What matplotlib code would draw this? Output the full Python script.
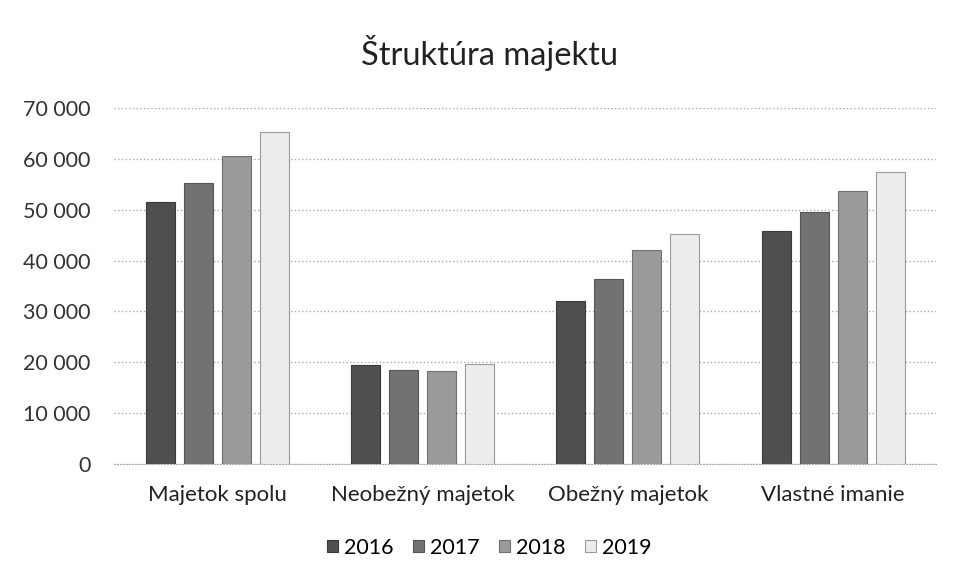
import numpy as np
import matplotlib
matplotlib.use('Agg')
import matplotlib.pyplot as plt

categories = ['Majetok spolu', 'Neobežný majetok', 'Obežný majetok', 'Vlastné imanie']
years = ['2016', '2017', '2018', '2019']
v2016 = [51500, 19400, 32000, 45800]
v2017 = [55200, 18500, 36300, 49500]
v2018 = [60500, 18200, 42000, 53700]
v2019 = [65200, 19600, 45200, 57400]
yticks = [0, 10000, 20000, 30000, 40000, 50000, 60000, 70000]
ytick_labels = ['0', '10 000', '20 000', '30 000', '40 000', '50 000', '60 000', '70 000']

plt.rcParams['font.family'] = ['Lato', 'DejaVu Sans']

fig = plt.figure(figsize=(9.54, 5.81), dpi=100)
ax = fig.add_axes([0.12, 0.2014, 0.861, 0.6126])

colors = ['#4f4f4f', '#727272', '#9a9a9a', '#ececec']
edges = ['#3a3a3a', '#555555', '#707070', '#9a9a9a']
series = [v2016, v2017, v2018, v2019]
x = np.arange(len(categories))
step = 0.185
width = 0.14
for i, (vals, year) in enumerate(zip(series, years)):
    ax.bar(x + (i - 1.5) * step, vals, width, color=colors[i],
           edgecolor=edges[i], linewidth=0.8, label=year, zorder=3)

ax.set_xlim(-0.5, 3.5)
ax.set_ylim(0, 70000)
ax.set_yticks(yticks)
ax.set_yticklabels(ytick_labels, fontsize=15.5, color='#333333')
ax.set_xticks(x)
ax.set_xticklabels(categories, fontsize=16, color='#222222')
ax.tick_params(axis='both', length=0)
ax.tick_params(axis='x', pad=15)
ax.tick_params(axis='y', pad=17)
ax.grid(axis='y', color='#aaaaaa', linestyle=':', linewidth=1.0, zorder=0)
for s in ['top', 'right', 'left']:
    ax.spines[s].set_visible(False)
ax.spines['bottom'].set_color('#aaaaaa')
ax.spines['bottom'].set_linestyle(':')

fig.text(0.513, 0.908, 'Štruktúra majektu', fontsize=23.5, ha='center', va='center', color='#222222')

fig.legend(loc='center', bbox_to_anchor=(0.513, 0.057), ncol=4, frameon=False,
           fontsize=15.5, handlelength=0.5, handleheight=0.5, handletextpad=0.3,
           columnspacing=0.9)

fig.savefig('out.png', dpi=100)
